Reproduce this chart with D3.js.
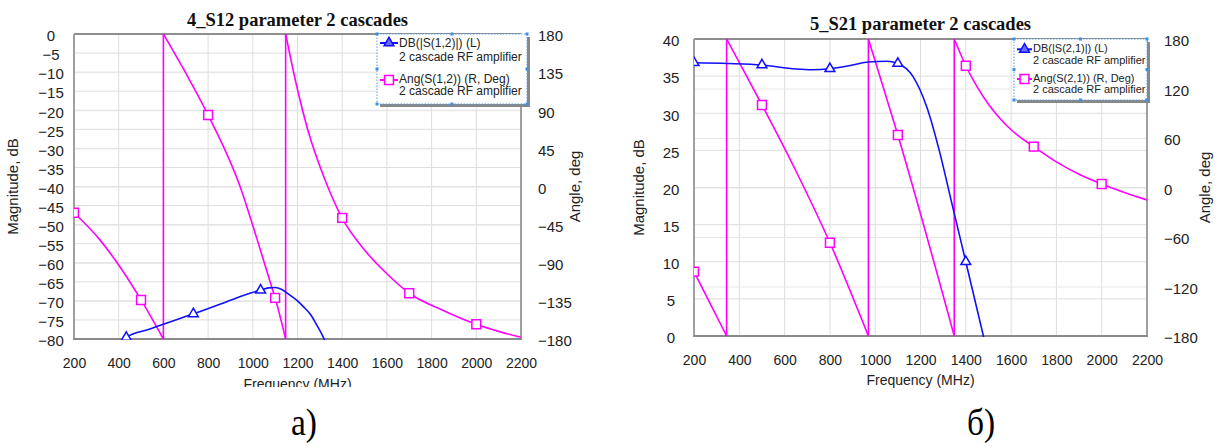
<!DOCTYPE html>
<html><head><meta charset="utf-8">
<script src="https://cdn.jsdelivr.net/npm/d3@7"></script>
<style>body{margin:0;background:#fff;} svg{display:block;font-family:"Liberation Sans",Arial,sans-serif;}</style>
</head><body>
<svg id="c" width="1222" height="448"></svg>
<script>
// ---------- data ----------
const freqTicks = [200,400,600,800,1000,1200,1400,1600,1800,2000,2200];
const s12MagTicks = [0,-5,-10,-15,-20,-25,-30,-35,-40,-45,-50,-55,-60,-65,-70,-75,-80];
const s12AngTicks = [180,135,90,45,0,-45,-90,-135,-180];
const s21MagTicks = [40,35,30,25,20,15,10,5,0];
const s21AngTicks = [180,120,60,0,-60,-120,-180];

const s12Mag = [[425,-80.0],[434,-79.6],[540,-77.4],[674,-74.6],[734,-73.4],[883,-70.2],[987,-68.0],[1035,-67.2],[1070,-66.6],[1100,-66.5],[1130,-67.0],[1166,-68.5],[1200,-70.0],[1226,-71.5],[1260,-73.7],[1286,-76.3],[1319,-80.0],[1330,-81.5]];
const s12MagMarkers = [[434,-79.6],[734,-73.4],[1035,-67.2]];
const s12AngSeg1 = [[200,-31],[316,-63],[406,-95],[498,-133],[600,-180]];
const s12AngSeg2 = [[600,180],[700,134],[800,84.4],[943,0],[1020,-63],[1084,-118],[1100,-131.5],[1147,-180]];
const s12AngSeg3 = [[1147,180],[1190,126],[1246,67],[1323,8],[1398,-36.4],[1500,-75],[1600,-103],[1700,-126],[1850,-146],[2000,-162.6],[2100,-171],[2200,-178]];
const s12AngMarkers = [[200,-31],[500,-134],[800,84.4],[1100,-131.5],[1400,-37],[1700,-126],[2000,-162.6]];

const s21Mag = [[200,36.8],[350,36.7],[500,36.5],[650,35.95],[720,35.85],[800,36.0],[900,36.5],[970,36.9],[1050,37.0],[1100,36.7],[1168,34.9],[1227,30.9],[1286,24.6],[1335,18.3],[1400,10.0],[1480,-0.3]];
const s21MagMarkers = [[200,36.8],[500,36.5],[800,36.0],[1100,36.7],[1400,10.0]];
const s21AngSeg1 = [[200,-102],[344,-180]];
const s21AngSeg2 = [[344,180],[500,100],[650,20],[800,-67],[970,-180]];
const s21AngSeg3 = [[970,180],[1100,63.6],[1349,-180]];
const s21AngSeg4 = [[1349,180],[1400,147.6],[1450,122],[1500,101],[1550,84],[1600,70],[1700,49.5],[1800,31],[1900,16],[2000,4.2],[2100,-6],[2200,-15]];
const s21AngMarkers = [[200,-102],[500,100],[800,-67],[1100,63.6],[1400,147.6],[1700,49.5],[2000,4.2]];

const BLUE = "#1010ff", MAG = "#ff00ff";
const svg = d3.select("#c");

function drawChart(cfg){
  const g = svg.append("g");
  const x = d3.scaleLinear().domain([200,2200]).range([cfg.x0,cfg.x1]);
  const yL = d3.scaleLinear().domain(cfg.magDomain).range([cfg.y1,cfg.y0]);
  const yR = d3.scaleLinear().domain([-180,180]).range([cfg.y1,cfg.y0]);

  // grid
  const grid = g.append("g").attr("stroke","#dedede").attr("stroke-width",1);
  freqTicks.forEach(f=>grid.append("line").attr("x1",x(f)).attr("x2",x(f)).attr("y1",cfg.y0).attr("y2",cfg.y1));
  cfg.magTicks.forEach(v=>grid.append("line").attr("x1",cfg.x0).attr("x2",cfg.x1).attr("y1",yL(v)).attr("y2",yL(v)));
  cfg.angTicks.forEach(v=>grid.append("line").attr("x1",cfg.x0).attr("x2",cfg.x1).attr("y1",yR(v)+0.5).attr("y2",yR(v)+0.5).attr("stroke","#e6e6e6"));

  // frame
  g.append("line").attr("x1",cfg.x0).attr("x2",cfg.x1).attr("y1",cfg.y0).attr("y2",cfg.y0).attr("stroke","#6e6e6e").attr("stroke-width",1.5);
  g.append("line").attr("x1",cfg.x0).attr("x2",cfg.x0).attr("y1",cfg.y0).attr("y2",cfg.y1).attr("stroke","#a0a0a0").attr("stroke-width",2);
  g.append("line").attr("x1",cfg.x1).attr("x2",cfg.x1).attr("y1",cfg.y0).attr("y2",cfg.y1+1).attr("stroke","#a0a0a0").attr("stroke-width",2);
  g.append("line").attr("x1",cfg.x0-1).attr("x2",cfg.x1+1).attr("y1",cfg.y1).attr("y2",cfg.y1).attr("stroke","#8a8a8a").attr("stroke-width",2);

  // axes (labels only)
  const ax = g.append("g").attr("transform",`translate(0,${cfg.y1})`)
    .call(d3.axisBottom(x).tickValues(freqTicks).tickSize(0).tickPadding(19).tickFormat(d3.format("d")));
  const ayL = g.append("g").attr("transform",`translate(${cfg.x0},0)`)
    .call(d3.axisLeft(yL).tickValues(cfg.magTicks).tickSize(0).tickPadding(cfg.leftPad).tickFormat(d3.format("d")));
  const ayR = g.append("g").attr("transform",`translate(${cfg.x1},0)`)
    .call(d3.axisRight(yR).tickValues(cfg.angTicks).tickSize(0).tickPadding(17).tickFormat(d3.format("d")));
  [ax,ayL,ayR].forEach(a=>{a.select(".domain").remove(); a.selectAll("text").attr("fill","#222").style("font-family",'"Liberation Sans",Arial,sans-serif');});
  ax.selectAll("text").style("font-size","14px");
  ayL.selectAll("text").style("font-size","15px").attr("text-anchor","middle").attr("dy","0.45em");
  ayR.selectAll("text").style("font-size","15px").attr("dy","0.45em");

  // clip
  const cid = "clip"+cfg.id;
  svg.append("clipPath").attr("id",cid).append("rect").attr("x",cfg.x0).attr("y",cfg.y0-1).attr("width",cfg.x1-cfg.x0).attr("height",cfg.y1-cfg.y0+2);
  const data = g.append("g").attr("clip-path",`url(#${cid})`);

  const lineL = d3.line().x(d=>x(d[0])).y(d=>yL(d[1])).curve(d3.curveMonotoneX);
  const lineR = d3.line().x(d=>x(d[0])).y(d=>yR(d[1])).curve(d3.curveMonotoneX);
  const lineRlin = d3.line().x(d=>x(d[0])).y(d=>yR(d[1]));

  // angle segments + wrap connectors
  cfg.angSegs.forEach((s,i)=>{
    data.append("path").attr("d",lineR(s)).attr("fill","none").attr("stroke",MAG).attr("stroke-width",1.6);
    if(i>0){
      const prev = cfg.angSegs[i-1];
      data.append("path").attr("d",lineRlin([prev[prev.length-1], s[0]])).attr("fill","none").attr("stroke",MAG).attr("stroke-width",1.6);
    }
  });
  data.append("path").attr("d",lineL(cfg.mag)).attr("fill","none").attr("stroke",BLUE).attr("stroke-width",1.6);

  const tri = d3.symbol().type(d3.symbolTriangle).size(42);
  const sq = d3.symbol().type(d3.symbolSquare).size(78);
  data.selectAll(null).data(cfg.magMarkers).join("path")
    .attr("transform",d=>`translate(${x(d[0])},${yL(d[1])})`).attr("d",tri())
    .attr("fill","#fff").attr("stroke",BLUE).attr("stroke-width",1.5);
  data.selectAll(null).data(cfg.angMarkers).join("path")
    .attr("transform",d=>`translate(${x(d[0])},${yR(d[1])})`).attr("d",sq())
    .attr("fill","#fff").attr("stroke",MAG).attr("stroke-width",1.5);

  // title
  g.append("text").attr("x",(cfg.x0+cfg.x1)/2).attr("y",cfg.titleY).attr("text-anchor","middle")
    .style("font-family",'"Liberation Serif","Times New Roman",serif').style("font-weight","bold").style("font-size","18.5px")
    .attr("fill","#111").text(cfg.title);

  // axis titles
  const fq = g.append("text").attr("x",(cfg.x0+cfg.x1)/2).attr("y",cfg.freqY).attr("text-anchor","middle")
    .style("font-size","14px").attr("fill","#222").text("Frequency (MHz)");
  if(cfg.freqClip){
    svg.append("clipPath").attr("id",cid+"f").append("rect").attr("x",0).attr("y",0).attr("width",1222).attr("height",cfg.freqClip);
    fq.attr("clip-path",`url(#${cid}f)`);
  }
  g.append("text").attr("transform",`translate(${cfg.magLabelX},${(cfg.y0+cfg.y1)/2}) rotate(-90)`).attr("text-anchor","middle")
    .style("font-size","15px").attr("fill","#222").text("Magnitude, dB");
  g.append("text").attr("transform",`translate(${cfg.angLabelX},${(cfg.y0+cfg.y1)/2}) rotate(-90)`).attr("text-anchor","middle")
    .style("font-size","15px").attr("fill","#222").text("Angle, deg");

  // legend
  const L = cfg.legend;
  const lg = g.append("g");
  lg.append("rect").attr("x",L.x0+3).attr("y",L.y0+3).attr("width",L.x1-L.x0).attr("height",L.y1-L.y0).attr("fill","#888");
  lg.append("rect").attr("x",L.x0).attr("y",L.y0).attr("width",L.x1-L.x0).attr("height",L.y1-L.y0).attr("fill","#fff")
    .attr("stroke","#5a9be6").attr("stroke-width",1).attr("stroke-dasharray","1.5,1.5");
  const hx = [L.x0,(L.x0+L.x1)/2,L.x1], hy=[L.y0,(L.y0+L.y1)/2,L.y1];
  hx.forEach(a=>hy.forEach(b=>{ if(a===hx[1]&&b===hy[1]) return;
    lg.append("rect").attr("x",a-1.5).attr("y",b-1.5).attr("width",3).attr("height",3).attr("fill","#3d8fe8");}));
  const mx = (L.mx0+L.mx1)/2;
  lg.append("line").attr("x1",L.mx0).attr("x2",L.mx1).attr("y1",L.my1).attr("y2",L.my1).attr("stroke",BLUE).attr("stroke-width",2);
  lg.append("path").attr("transform",`translate(${mx},${L.my1})`).attr("d",tri()).attr("fill","#6a6aff").attr("stroke",BLUE).attr("stroke-width",1.5);
  lg.append("line").attr("x1",L.mx0).attr("x2",L.mx1).attr("y1",L.my2).attr("y2",L.my2).attr("stroke",MAG).attr("stroke-width",2);
  lg.append("path").attr("transform",`translate(${mx},${L.my2})`).attr("d",sq()).attr("fill","#fff").attr("stroke",MAG).attr("stroke-width",1.5);
  L.texts.forEach((t,i)=>lg.append("text").attr("x",L.tx).attr("y",L.ty[i]).style("font-size",L.fs+"px").attr("fill","#222").text(t));
}

drawChart({id:"a", x0:74, x1:521, y0:34, y1:339, magDomain:[-80,0], magTicks:s12MagTicks, angTicks:s12AngTicks,
  leftPad:23, mag:s12Mag, magMarkers:s12MagMarkers, angSegs:[s12AngSeg1,s12AngSeg2,s12AngSeg3], angMarkers:s12AngMarkers,
  title:"4_S12 parameter 2 cascades", titleY:26, freqY:389, freqClip:387, magLabelX:17.5, angLabelX:580,
  legend:{x0:377,x1:527,y0:34,y1:104, mx0:380, mx1:398, my1:43, my2:80, tx:399, ty:[46.5,61,83,95], fs:12,
    texts:["DB(|S(1,2)|) (L)","2 cascade RF amplifier","Ang(S(1,2)) (R, Deg)","2 cascade RF amplifier"]}});

drawChart({id:"b", x0:694, x1:1147, y0:39, y1:336, magDomain:[0,40], magTicks:s21MagTicks, angTicks:s21AngTicks,
  leftPad:23, mag:s21Mag, magMarkers:s21MagMarkers, angSegs:[s21AngSeg1,s21AngSeg2,s21AngSeg3,s21AngSeg4], angMarkers:s21AngMarkers,
  title:"5_S21 parameter 2 cascades", titleY:30, freqY:385, freqClip:null, magLabelX:644, angLabelX:1210,
  legend:{x0:1014,x1:1147,y0:39,y1:100, mx0:1017, mx1:1032, my1:49.3, my2:79, tx:1033, ty:[52,63.5,82,93], fs:11,
    texts:["DB(|S(2,1)|) (L)","2 cascade RF amplifier","Ang(S(2,1)) (R, Deg)","2 cascade RF amplifier"]}});

// sub-figure captions
const capFont = '"Liberation Serif","Times New Roman",serif';
svg.append("text").attr("transform","translate(291,435) scale(0.88,1)").style("font-family",capFont).style("font-size","38px").attr("fill","#000").text("а)");
svg.append("text").attr("transform","translate(967,435) scale(0.88,1)").style("font-family",capFont).style("font-size","38px").attr("fill","#000").text("б)");
</script>
</body></html>
